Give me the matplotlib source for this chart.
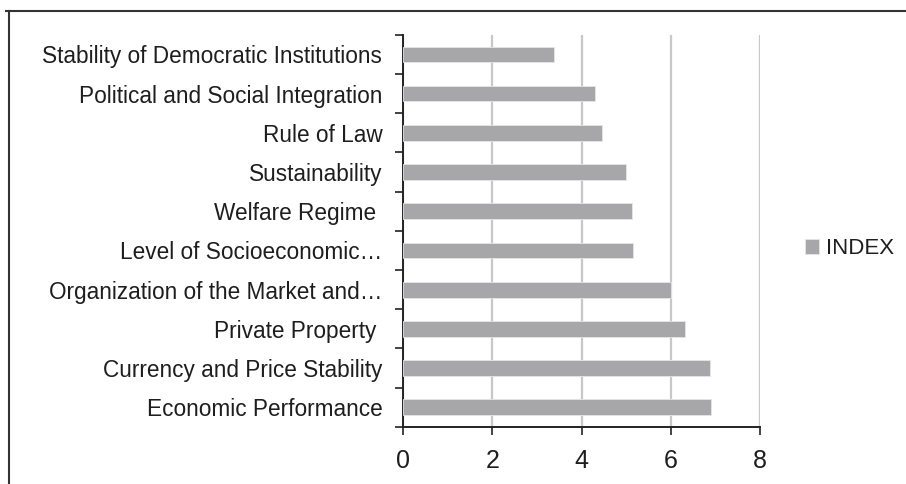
import matplotlib.pyplot as plt
from matplotlib.lines import Line2D

plt.rcParams['font.family'] = ['Liberation Sans', 'DejaVu Sans']

# categories from bottom to top
categories = [
    'Economic Performance',
    'Currency and Price Stability',
    'Private Property ',
    'Organization of the Market and\u2026',
    'Level of Socioeconomic\u2026',
    'Welfare Regime ',
    'Sustainability',
    'Rule of Law',
    'Political and Social Integration',
    'Stability of Democratic Institutions',
]
index_values = [6.89, 6.88, 6.31, 6.0, 5.14, 5.13, 5.0, 4.45, 4.31, 3.38]
x_ticks = [0, 2, 4, 6, 8]

fig = plt.figure(figsize=(9.06, 4.84), dpi=100)
ax = fig.add_axes([0.445, 0.118, 0.394, 0.810])

pos = list(range(len(categories)))
ax.barh(pos, index_values, height=0.4, color='#a7a7aa', edgecolor='#e6e6e6',
        linewidth=0.6, label='INDEX', zorder=3)

ax.set_xlim(0, 8)
ax.set_ylim(-0.5, len(categories) - 0.5)
ax.set_xticks(x_ticks)
ax.set_xticklabels([str(t) for t in x_ticks], fontsize=18, color='#1e1e1e')
ax.xaxis.grid(True, color='#c8c8c8', linewidth=1.6, zorder=0)

# category labels in the middle, ticks on the boundaries
ax.set_yticks(pos)
ax.set_yticklabels(categories, fontsize=16.3, color='#1e1e1e')
ax.tick_params(axis='y', which='major', length=0, pad=15)
ax.set_yticks([p - 0.5 for p in pos] + [len(categories) - 0.5], minor=True)
ax.tick_params(axis='y', which='minor', length=6, width=1.2, color='#222222')
ax.tick_params(axis='x', length=6, width=1.2, color='#222222', pad=10)

for side in ['top', 'right']:
    ax.spines[side].set_visible(False)
for side in ['left', 'bottom']:
    ax.spines[side].set_linewidth(1.4)
    ax.spines[side].set_color('#222222')

leg = ax.legend(loc='center left', bbox_to_anchor=(0.866, 0.486),
                bbox_transform=fig.transFigure, frameon=False,
                fontsize=16, handlelength=0.65, handleheight=0.65,
                handletextpad=0.3)
for t in leg.get_texts():
    t.set_color('#1e1e1e')

# outer frame (top and left edges visible)
fig.add_artist(Line2D([0.007, 1.0], [1 - 11 / 484, 1 - 11 / 484],
                      transform=fig.transFigure, color='#333333', linewidth=1.5))
fig.add_artist(Line2D([9 / 906, 9 / 906], [0.0, 1 - 11 / 484],
                      transform=fig.transFigure, color='#333333', linewidth=1.5))

fig.savefig('out.png', dpi=100)
